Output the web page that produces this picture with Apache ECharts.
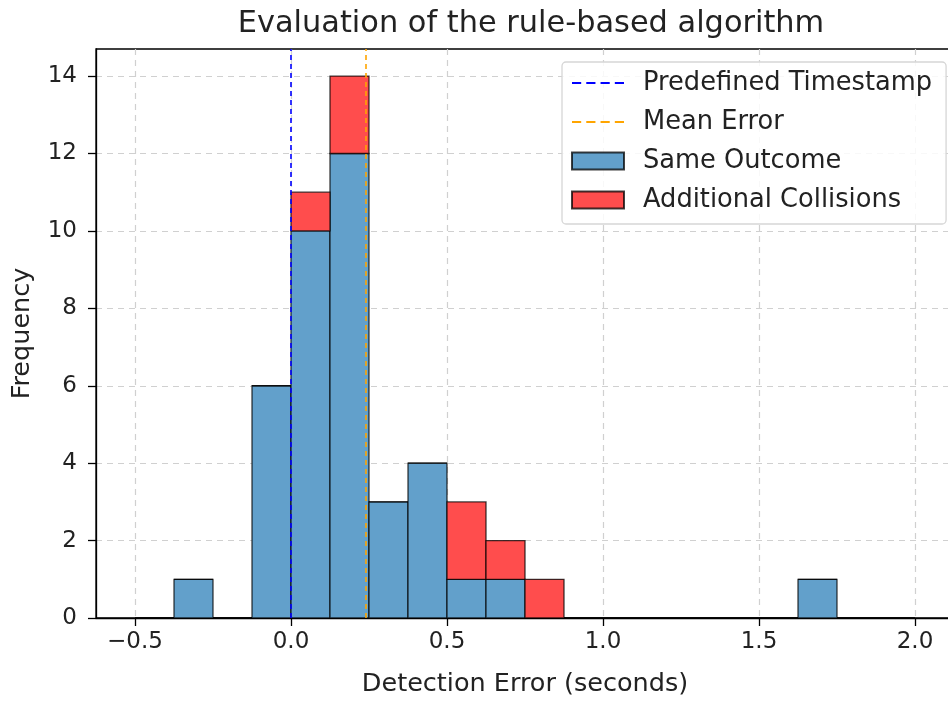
<!DOCTYPE html>
<html><head><meta charset="utf-8">
<script src="https://cdn.jsdelivr.net/npm/echarts@6/dist/echarts.min.js"></script>
<style>html,body{margin:0;padding:0;background:#fff;overflow:hidden}#c{width:960px;height:702px}</style>
</head><body><div id="c"></div>
<script>
const binStarts = [-0.5,-0.375,-0.25,-0.125,0,0.125,0.25,0.375,0.5,0.625,0.75,0.875,1.0,1.125,1.25,1.375,1.5,1.625,1.75,1.875];
const binWidth = 0.125;
const sameOutcome = [0,1,0,6,10,12,3,4,1,1,0,0,0,0,0,0,0,1,0,0];
const additionalCollisions = [0,0,0,0,1,2,0,0,2,1,1,0,0,0,0,0,0,0,0,0];
const predefinedTimestamp = 0.0;
const meanError = 0.24;
const xTicks = [-0.5,0.0,0.5,1.0,1.5,2.0];
const yTicks = [0,2,4,6,8,10,12,14];

const FONT = 'DejaVu Sans';
const blueData = binStarts.map((s,i)=>[s, s+binWidth, 0, sameOutcome[i]]);
const redData = binStarts.map((s,i)=>[s, s+binWidth, sameOutcome[i], sameOutcome[i]+additionalCollisions[i]]);

function renderBar(params, api){
  const p0 = api.coord([api.value(0), api.value(3)]);
  const p1 = api.coord([api.value(1), api.value(2)]);
  return {type:'rect', shape:{x:p0[0], y:p0[1], width:p1[0]-p0[0], height:p1[1]-p0[1]},
    style: api.style()};
}

const chart = echarts.init(document.getElementById('c'), null, {renderer:'canvas'});
const fmt = v => { const s = Number(v).toFixed(1); return s.replace('-', '\u2212'); };
const dashIcon = 'path://M0,0 L9,0 L9,2 L0,2 Z M14,0 L23,0 L23,2 L14,2 Z M28,0 L37,0 L37,2 L28,2 Z M42,0 L51,0 L51,2 L42,2 Z';
chart.setOption({
  animation:false,
  backgroundColor:'#fff',
  title:{text:'Evaluation of the rule-based algorithm', left:526, top:4, textAlign:'center',
    textStyle:{fontFamily:FONT, fontSize:30.4, fontWeight:'normal', color:'#222'}},
  grid:{left:96, top:49, width:858, height:571, containLabel:false,
    show:true, borderColor:'#000', borderWidth:1.3, backgroundColor:'transparent'},
  xAxis:{type:'value', min:-0.625, max:2.125,
    name:'Detection Error (seconds)', nameLocation:'middle', nameGap:53,
    nameTextStyle:{fontFamily:FONT, fontSize:25.5, color:'#222', align:'center'},
    axisLine:{show:true, onZero:false, lineStyle:{color:'#000', width:1.3}},
    axisTick:{show:true, length:8, customValues:xTicks, lineStyle:{color:'#000', width:1.3}},
    axisLabel:{customValues:xTicks, formatter:fmt, fontFamily:FONT, fontSize:23, color:'#222', margin:13},
    splitLine:{show:true, lineStyle:{type:[6,5], color:'#d0d0d0', width:1.2}}
  },
  yAxis:{type:'value', min:0, max:14.7, interval:2,
    name:'Frequency', nameLocation:'middle', nameGap:61, nameRotate:90,
    nameTextStyle:{fontFamily:FONT, fontSize:25.5, color:'#222'},
    axisLine:{show:true, onZero:false, lineStyle:{color:'#000', width:1.3}},
    axisTick:{show:true, length:8, customValues:yTicks, lineStyle:{color:'#000', width:1.3}},
    axisLabel:{customValues:yTicks, fontFamily:FONT, fontSize:23, color:'#222', margin:19},
    splitLine:{show:true, lineStyle:{type:[6,5], color:'#d0d0d0', width:1.2}}
  },
  legend:{orient:'vertical', left:562, top:62, padding:[7,14,10,9], itemGap:11,
    itemWidth:52, itemHeight:17,
    backgroundColor:'rgba(255,255,255,0.85)', borderColor:'#d6d6d6', borderWidth:1.3, borderRadius:4,
    textStyle:{fontFamily:FONT, fontSize:25.7, color:'#222', lineHeight:28, padding:[0,0,0,14]},
    data:[
      {name:'Predefined Timestamp', icon:dashIcon, itemStyle:{color:'#0000ff'}},
      {name:'Mean Error', icon:dashIcon, itemStyle:{color:'#ffa500'}},
      {name:'Same Outcome', icon:'rect'},
      {name:'Additional Collisions', icon:'rect'}
    ]
  },
  series:[
    {name:'Same Outcome', type:'custom', renderItem:renderBar, data:blueData, z:2,
      encode:{x:[0,1], y:[2,3]},
      itemStyle:{color:'rgb(98,160,203)', borderColor:'rgba(0,0,0,0.75)', borderWidth:1.3}},
    {name:'Additional Collisions', type:'custom', renderItem:renderBar, data:redData, z:2,
      encode:{x:[0,1], y:[2,3]},
      itemStyle:{color:'rgb(255,77,77)', borderColor:'rgba(0,0,0,0.75)', borderWidth:1.3}},
    {name:'Predefined Timestamp', type:'line', data:[], z:5, symbol:'none',
      lineStyle:{color:'#0000ff', type:[5,4], width:1.6}, itemStyle:{color:'#0000ff'},
      markLine:{silent:true, symbol:['none','none'], label:{show:false},
        lineStyle:{color:'#0000ff', type:[5,4], width:1.6}, data:[{xAxis:predefinedTimestamp}]}},
    {name:'Mean Error', type:'line', data:[], z:5, symbol:'none',
      lineStyle:{color:'#ffa500', type:[5,4], width:1.6}, itemStyle:{color:'#ffa500'},
      markLine:{silent:true, symbol:['none','none'], label:{show:false},
        lineStyle:{color:'#ffa500', type:[5,4], width:1.6}, data:[{xAxis:meanError}]}}
  ]
});
</script></body></html>
